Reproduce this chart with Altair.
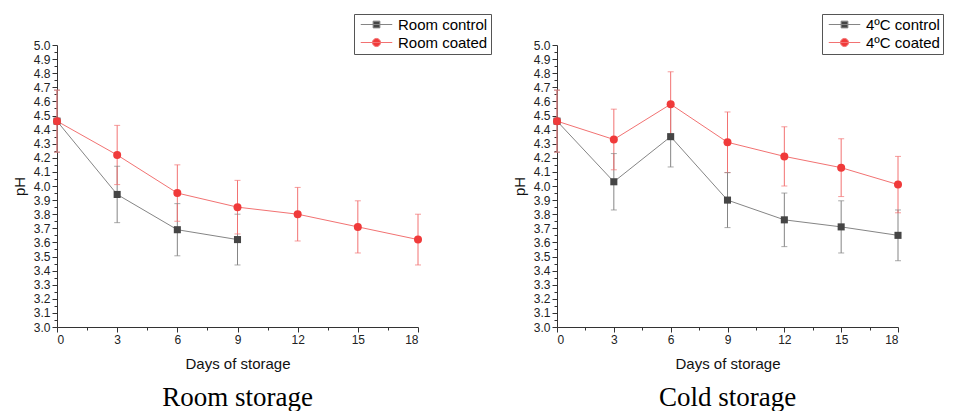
import altair as alt
import pandas as pd

# ---- data ----
days = [0, 3, 6, 9, 12, 15, 18]
room_control_days = [0, 3, 6, 9]
room_control_ph = [4.46, 3.94, 3.69, 3.62]
room_control_err = [0.22, 0.20, 0.185, 0.18]
room_coated_ph = [4.46, 4.22, 3.95, 3.85, 3.80, 3.71, 3.62]
room_coated_err = [0.22, 0.21, 0.20, 0.19, 0.19, 0.185, 0.18]
cold_control_ph = [4.46, 4.03, 4.35, 3.90, 3.76, 3.71, 3.65]
cold_control_err = [0.22, 0.20, 0.215, 0.195, 0.19, 0.185, 0.18]
cold_coated_ph = [4.46, 4.33, 4.58, 4.31, 4.21, 4.13, 4.01]
cold_coated_err = [0.22, 0.215, 0.23, 0.215, 0.21, 0.205, 0.20]

room_names = ["Room control", "Room coated"]
cold_names = ["4ºC control", "4ºC coated"]

x_ticks = [0, 1.5, 3, 4.5, 6, 7.5, 9, 10.5, 12, 13.5, 15, 16.5, 18]
y_ticks = [round(3 + 0.05 * i, 2) for i in range(41)]

MARK_COLORS = ["#454545", "#f03a3a"]
LINE_COLORS = ["#858585", "#f27272"]
LEGEND_SHAPES = [
    "M-3.5,0H3.5M-0.75,-0.75H0.75V0.75H-0.75Z",
    "M-3.5,0H3.5M0.9,0A0.9,0.9 0 1,1 -0.9,0A0.9,0.9 0 1,1 0.9,0Z",
]

FONT = "Liberation Sans"


def frame(name, d, ph, err):
    return pd.DataFrame({
        "series": name,
        "day": d,
        "ph": ph,
        "lo": [p - e for p, e in zip(ph, err)],
        "hi": [p + e for p, e in zip(ph, err)],
    })


room_df = pd.concat([
    frame(room_names[0], room_control_days, room_control_ph, room_control_err),
    frame(room_names[1], days, room_coated_ph, room_coated_err),
])
cold_df = pd.concat([
    frame(cold_names[0], days, cold_control_ph, cold_control_err),
    frame(cold_names[1], days, cold_coated_ph, cold_coated_err),
])

x_axis = alt.Axis(
    values=x_ticks,
    labelExpr="datum.value % 3 == 0 ? format(datum.value, 'd') : ''",
    tickSize={"condition": {"test": "datum.value % 3 != 0", "value": 3}, "value": 5},
    grid=False, labelPadding=2, titlePadding=11, labelOverlap=False,
)
y_axis = alt.Axis(
    values=y_ticks,
    labelExpr="abs(round(datum.value * 20)) % 2 == 1 ? '' : format(datum.value, '.1f')",
    tickSize={"condition": {"test": "abs(round(datum.value * 20)) % 2 == 1", "value": 3}, "value": 5},
    grid=False, labelPadding=2, titlePadding=6, labelOverlap=False,
)


def panel(df, names, width, title, lx, ly):
    fill_scale = alt.Scale(domain=names, range=MARK_COLORS)
    stroke_scale = alt.Scale(domain=names, range=LINE_COLORS)
    shape_scale = alt.Scale(domain=names, range=LEGEND_SHAPES)
    X = alt.X("day:Q", scale=alt.Scale(domain=[0, 18], nice=False), axis=x_axis,
              title="Days of storage")

    def Y(field):
        return alt.Y(field, scale=alt.Scale(domain=[3, 5], nice=False, zero=False),
                     axis=y_axis, title="pH")

    base = alt.Chart(df)
    leg = alt.Legend(
        orient="none", legendX=lx, legendY=ly, title=None,
        symbolSize=81, symbolStrokeWidth=1, symbolOffset=12, labelOffset=14,
        labelFont=FONT, labelFontSize=15, labelColor="black",
        strokeColor="#555555", fillColor="white", padding=3, rowPadding=2,
        labelLimit=300,
    )
    legend_layer = base.transform_filter("datum.day < 0").mark_point(
        filled=True, opacity=1, strokeWidth=1, size=81).encode(
        x=X, y=Y("ph:Q"),
        fill=alt.Fill("series:N", scale=fill_scale, legend=leg),
        stroke=alt.Stroke("series:N", scale=stroke_scale, legend=leg),
        shape=alt.Shape("series:N", scale=shape_scale, legend=leg),
    )
    bars = base.mark_rule(strokeWidth=1).encode(
        x=X, y=Y("lo:Q"), y2="hi:Q",
        stroke=alt.Stroke("series:N", scale=stroke_scale))
    cap_lo = base.mark_tick(orient="horizontal", size=6, thickness=1).encode(
        x=X, y=Y("lo:Q"),
        color=alt.Color("series:N", scale=stroke_scale, legend=None))
    cap_hi = base.mark_tick(orient="horizontal", size=6, thickness=1).encode(
        x=X, y=Y("hi:Q"),
        color=alt.Color("series:N", scale=stroke_scale, legend=None))
    line = base.mark_line(strokeWidth=1).encode(
        x=X, y=Y("ph:Q"),
        stroke=alt.Stroke("series:N", scale=stroke_scale))
    sq = base.transform_filter(alt.datum.series == names[0]).mark_point(
        filled=True, shape="square", size=50, opacity=1).encode(
        x=X, y=Y("ph:Q"),
        fill=alt.Fill("series:N", scale=fill_scale))
    ci = base.transform_filter(alt.datum.series == names[1]).mark_point(
        filled=True, shape="circle", size=64, opacity=1).encode(
        x=X, y=Y("ph:Q"),
        fill=alt.Fill("series:N", scale=fill_scale))

    return alt.layer(legend_layer, bars, cap_lo, cap_hi, line, sq, ci).properties(
        width=width, height=282,
        title=alt.TitleParams(title, orient="bottom", font="Liberation Serif",
                              fontSize=27, fontWeight="normal", color="black",
                              offset=14, anchor="middle"),
    )


left = panel(room_df, room_names, 361, "Room storage", 297, -31)
right = panel(cold_df, cold_names, 341, "Cold storage", 265, -31)

chart = alt.hconcat(left, right, spacing=20).resolve_scale(
    fill="independent", stroke="independent", shape="independent", color="independent",
    x="independent", y="independent",
).resolve_legend(
    fill="independent", stroke="independent", shape="independent", color="independent",
).properties(
    padding={"left": 4, "top": 5, "right": 0, "bottom": 0}
).configure_view(stroke=None).configure_axis(
    labelFont=FONT, labelFontSize=12, labelColor="#222222",
    titleFont=FONT, titleFontSize=15, titleFontWeight="normal", titleColor="#111111",
    domainColor="#333333", tickColor="#333333", domainWidth=1, tickWidth=1,
)

chart.save("out.html", embed_options={"renderer": "svg", "actions": False})
